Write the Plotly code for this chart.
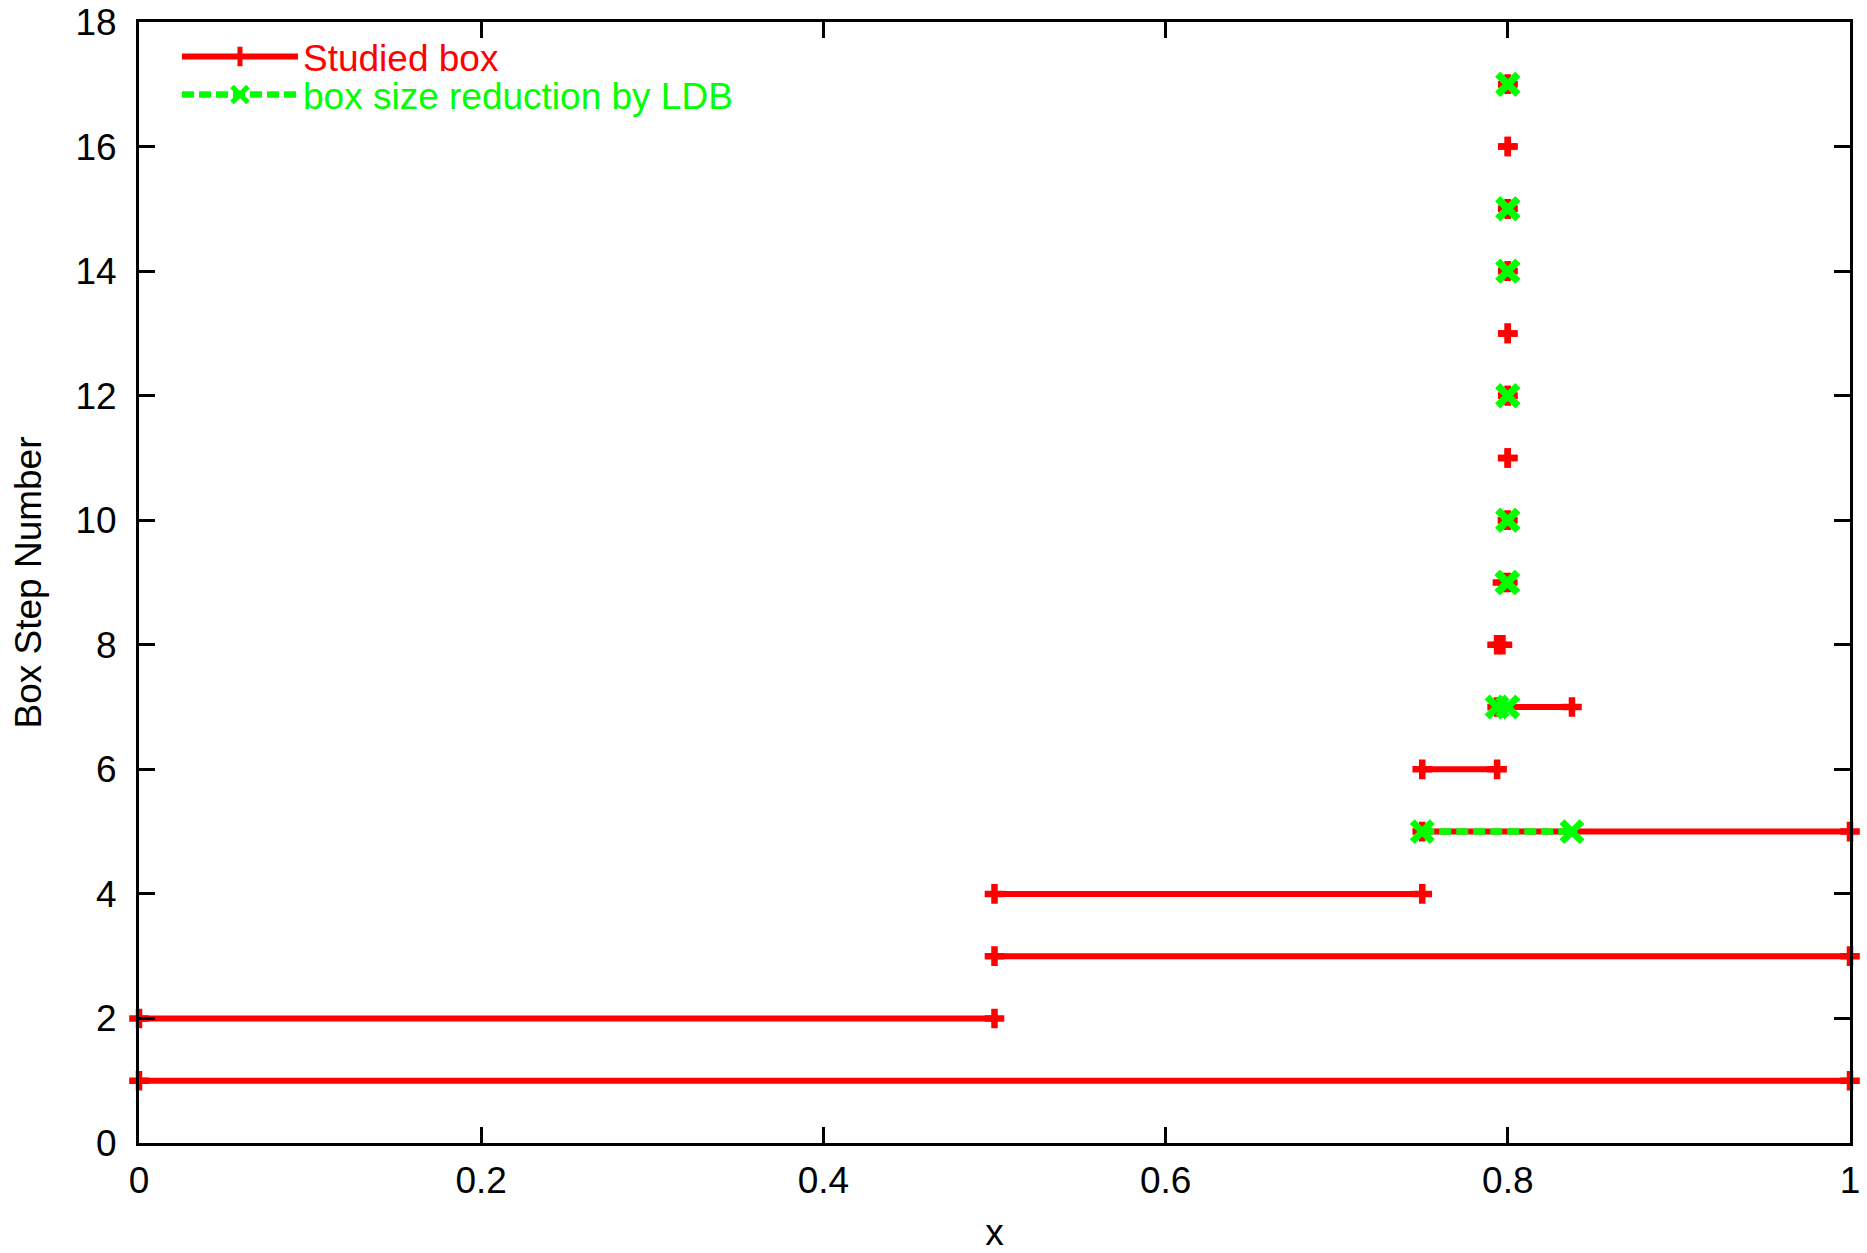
import plotly.graph_objects as go

# Studied boxes: step number, interval [lo, hi]
studied_step = [1, 2, 3, 4, 5, 6, 7, 8, 9, 10, 11, 12, 13, 14, 15, 16, 17]
studied_lo = [0.0, 0.0, 0.5, 0.5, 0.75, 0.75, 0.79375, 0.79375, 0.796875, 0.7998, 0.7999, 0.79995, 0.79997, 0.79998, 0.79999, 0.799995, 0.799997]
studied_hi = [1.0, 0.5, 1.0, 0.75, 1.0, 0.79375, 0.8375, 0.796875, 0.8, 0.8, 0.8, 0.8, 0.8, 0.8, 0.8, 0.8, 0.8]

# Box size reduction by LDB
ldb_step = [5, 7, 9, 10, 12, 14, 15, 17]
ldb_lo = [0.75, 0.79375, 0.7995, 0.7999, 0.79997, 0.79998, 0.79999, 0.799998]
ldb_hi = [0.8375, 0.8, 0.8, 0.8, 0.8, 0.8, 0.8, 0.8]

x_ticks = [0, 0.2, 0.4, 0.6, 0.8, 1]
x_tick_text = ["0", "0.2", "0.4", "0.6", "0.8", "1"]
y_ticks = [0, 2, 4, 6, 8, 10, 12, 14, 16, 18]


def segments(steps, lo, hi):
    xs, ys = [], []
    for s, a, b in zip(steps, lo, hi):
        xs += [a, b, None]
        ys += [s, s, None]
    return xs, ys


sx, sy = segments(studied_step, studied_lo, studied_hi)
lx, ly = segments(ldb_step, ldb_lo, ldb_hi)

RED = "#ff0000"
GREEN = "#00ff00"
FONT = "Liberation Sans, Arial, sans-serif"
FS = 37

fig = go.Figure()
fig.add_trace(go.Scatter(
    x=sx, y=sy, mode="lines+markers", name="Studied box",
    line=dict(color=RED, width=6),
    marker=dict(symbol="cross-thin", size=14, color=RED,
                line=dict(color=RED, width=6.5)),
    legend="legend", cliponaxis=False,
))
fig.add_trace(go.Scatter(
    x=lx, y=ly, mode="lines+markers", name="box size reduction by LDB",
    line=dict(color=GREEN, width=6.5, dash="12px,5px"),
    marker=dict(symbol="x-thin", size=20, color=GREEN,
                line=dict(color=GREEN, width=7)),
    legend="legend2", cliponaxis=False,
))

axis_common = dict(
    showline=True, linecolor="black", linewidth=3, mirror="ticks",
    ticks="inside", ticklen=16, tickwidth=3, tickcolor="black",
    showgrid=False, zeroline=False, automargin=False,
    tickfont=dict(family=FONT, size=FS, color="black"),
)

fig.update_layout(
    width=1867, height=1253,
    margin=dict(l=139, r=17, t=22, b=110, autoexpand=False),
    paper_bgcolor="white", plot_bgcolor="white",
    font=dict(family=FONT, size=FS, color="black"),
    xaxis=dict(range=[0, 1], tickvals=x_ticks, ticktext=x_tick_text,
               ticklabelstandoff=3,
               title=dict(text="x", font=dict(family=FONT, size=FS), standoff=27),
               **axis_common),
    yaxis=dict(range=[0, 18], tickvals=y_ticks, ticklabelstandoff=12,
               title=dict(text="Box Step Number", font=dict(family=FONT, size=FS), standoff=23),
               **axis_common),
    showlegend=True,
    legend=dict(x=0.0222, y=0.9688, xanchor="left", yanchor="middle",
                bgcolor="rgba(0,0,0,0)", itemwidth=116,
                font=dict(family=FONT, size=FS, color=RED)),
    legend2=dict(x=0.0222, y=0.9349, xanchor="left", yanchor="middle",
                 bgcolor="rgba(0,0,0,0)", itemwidth=116,
                 font=dict(family=FONT, size=FS, color=GREEN)),
)

fig.write_html("out.html", config={"displayModeBar": False},
               post_script="document.body.style.margin='0';")
